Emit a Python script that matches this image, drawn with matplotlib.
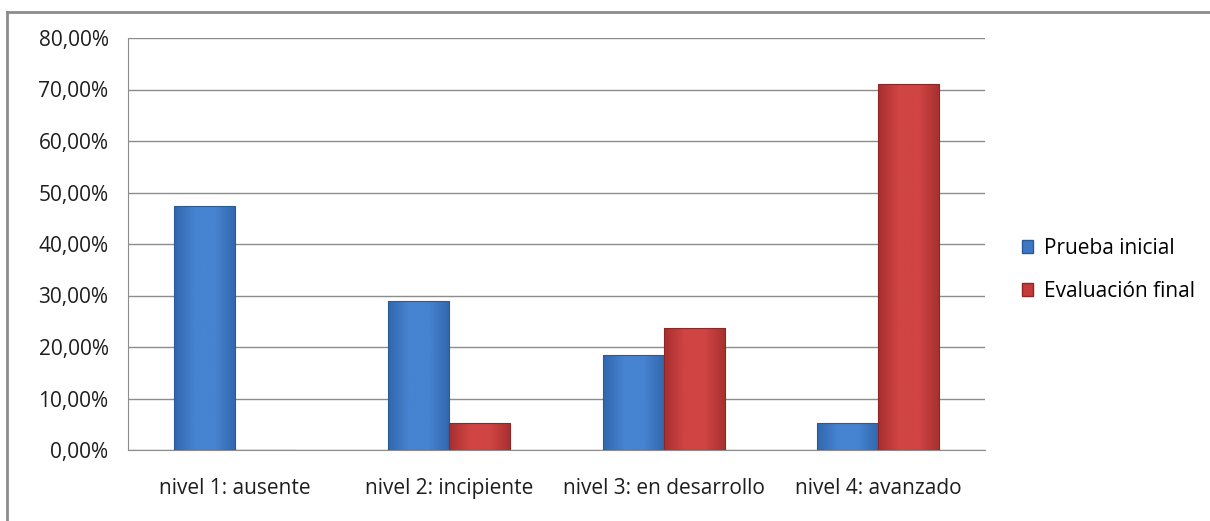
import numpy as np
import matplotlib.pyplot as plt
from matplotlib.lines import Line2D
from matplotlib.colors import LinearSegmentedColormap
from matplotlib.ticker import FuncFormatter

# Data
categories = ['nivel 1: ausente', 'nivel 2: incipiente', 'nivel 3: en desarrollo', 'nivel 4: avanzado']
prueba_inicial = [47.37, 28.95, 18.42, 5.26]
evaluacion_final = [0.0, 5.26, 23.68, 71.05]
series_names = ['Prueba inicial', 'Evaluación final']

plt.rcParams['font.family'] = ['Open Sans', 'DejaVu Sans']

fig = plt.figure(figsize=(12.1, 5.21), dpi=100)
ax = fig.add_axes([128 / 1210, 1 - 450 / 521, 857 / 1210, 412 / 521])

# outer chart border (only top and left are visible in the original)
fig.add_artist(Line2D([7 / 1210, 1], [1 - 12 / 521] * 2, transform=fig.transFigure,
                      color='#8c8c8c', linewidth=2))
fig.add_artist(Line2D([7 / 1210] * 2, [0, 1 - 12 / 521], transform=fig.transFigure,
                      color='#8c8c8c', linewidth=2))


def shade(bars, c_edge, c_mid):
    # horizontal gradient inside each bar to mimic the bevelled Excel look
    cmap = LinearSegmentedColormap.from_list('g', [c_edge, c_mid, c_mid, c_edge])
    grad = np.linspace(0, 1, 64).reshape(1, -1)
    for b in bars:
        if b.get_height() <= 0:
            continue
        x0, y0 = b.get_x(), b.get_y()
        im = ax.imshow(grad, cmap=cmap, aspect='auto', zorder=3,
                       extent=[x0, x0 + b.get_width(), y0, y0 + b.get_height()])
        im.set_clip_path(b)
        b.set_facecolor('none')


x = np.arange(len(categories))
w = 0.285
b1 = ax.bar(x - w / 2, prueba_inicial, w, color='#3d77c4', edgecolor='#2b5a99',
            linewidth=0.8, label=series_names[0], zorder=4)
b2 = ax.bar(x + w / 2, evaluacion_final, w, color='#c63a3a', edgecolor='#8e2626',
            linewidth=0.8, label=series_names[1], zorder=4)
shade(b1, '#3167ae', '#4683d0')
shade(b2, '#a82f2f', '#d04444')

ax.set_xlim(-0.5, len(categories) - 0.5)
ax.set_ylim(0, 80)
ax.set_yticks(np.arange(0, 81, 10))
ax.yaxis.set_major_formatter(FuncFormatter(lambda v, p: f'{v:.2f}%'.replace('.', ',')))
ax.set_xticks(x)
ax.set_xticklabels(categories)
ax.tick_params(axis='both', length=0, labelsize=15, colors='#1e1e1e')
ax.tick_params(axis='x', pad=20)
ax.tick_params(axis='y', pad=14)
ax.grid(axis='y', color='#8c8c8c', linewidth=1, zorder=0)
for s in ['top', 'right']:
    ax.spines[s].set_visible(False)
ax.spines['left'].set_color('#8c8c8c')
ax.spines['bottom'].set_color('#8c8c8c')

h = [plt.Rectangle((0, 0), 1, 1, facecolor='#3d77c4', edgecolor='#2b5a99'),
     plt.Rectangle((0, 0), 1, 1, facecolor='#c63a3a', edgecolor='#8e2626')]
ax.legend(h, series_names, loc='center left', bbox_to_anchor=(1.043, 0.437),
          frameon=False, fontsize=15, handlelength=0.55, handleheight=0.55,
          handletextpad=0.5, labelspacing=1.05, borderpad=0, borderaxespad=0)

plt.savefig('out.png', dpi=100)
